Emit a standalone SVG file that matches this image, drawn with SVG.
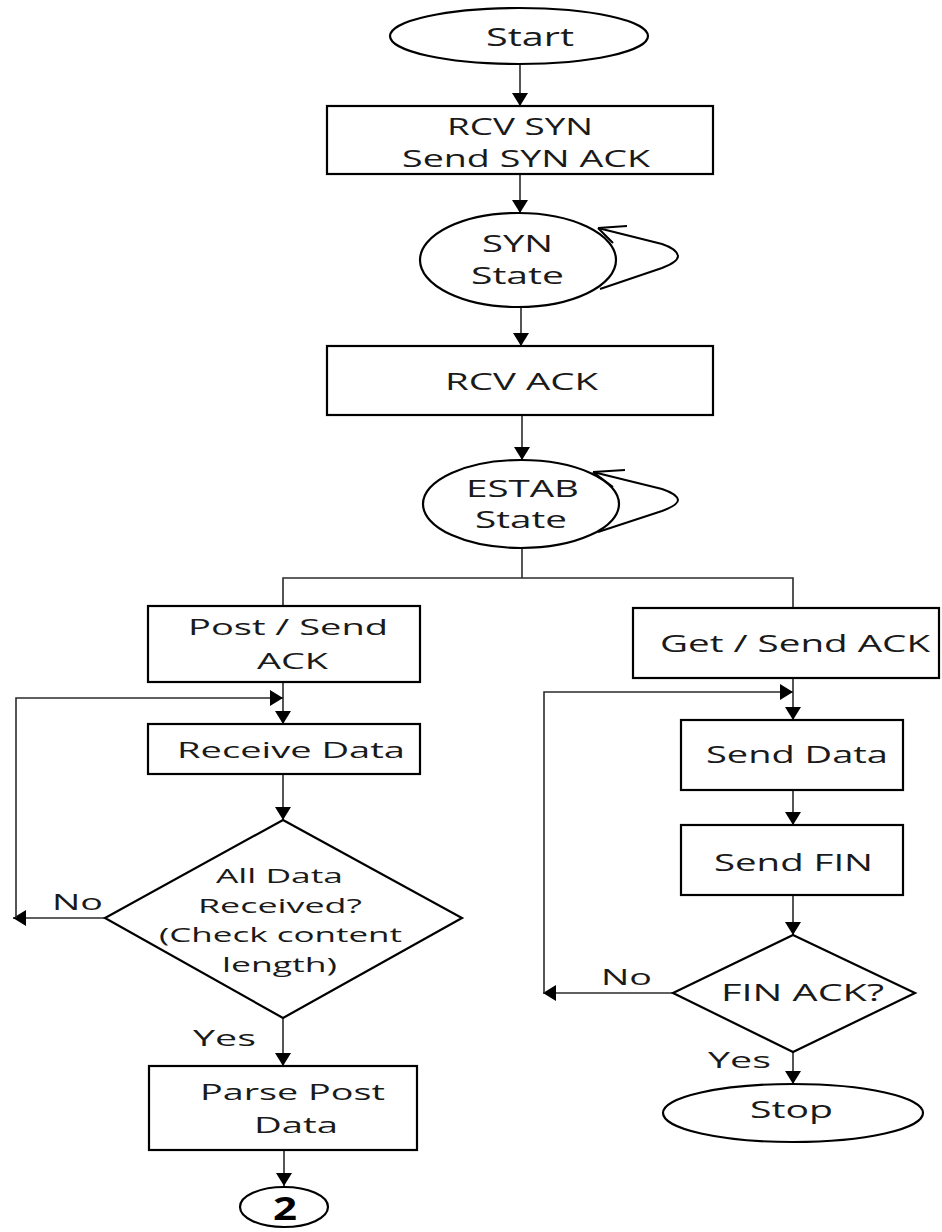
<svg xmlns="http://www.w3.org/2000/svg" width="942" height="1232" viewBox="0 0 942 1232">
  <style>
    .shape { fill: #ffffff; stroke: #000000; stroke-width: 2.2; }
    .conn { fill: none; stroke: #2b2b2b; stroke-width: 1.6; }
    .arrow { marker-end: url(#head); }
    .loop { fill: none; stroke: #000000; stroke-width: 2; stroke-linejoin: round; }
    text { font-family: "Open Sans", "Noto Sans", "Liberation Sans", sans-serif; font-weight: 500; fill: #1a1a1a; }
    .t23 { font-size: 23px; }
    .t21 { font-size: 21px; }
    .t20 { font-size: 20px; }
    .t25 { font-size: 25px; }
    .big { font-size: 32px; font-weight: bold; fill: #000000; }
  </style>
  <defs>
    <marker id="head" viewBox="0 0 13 16" refX="13" refY="8" markerWidth="13" markerHeight="16" markerUnits="userSpaceOnUse" orient="auto">
      <path d="M0,0 L13,8 L0,16 z" fill="#000000"/>
    </marker>
  </defs>

  <rect width="942" height="1232" fill="#ffffff"/>

  <!-- connectors -->
  <g id="connectors">
    <path class="conn arrow" d="M520,64 V106"/>
    <path class="conn arrow" d="M520,174 V213"/>
    <path class="conn arrow" d="M521,308 V346"/>
    <path class="conn arrow" d="M522,415 V460"/>
    <path class="conn" d="M522,548 V578"/>
    <path class="conn" d="M283,606 V578 H793 V608"/>
    <path class="conn arrow" d="M283,682 V724"/>
    <path class="conn arrow" d="M105,918 H13"/>
    <path class="conn arrow" d="M16,918 V698 H283"/>
    <path class="conn arrow" d="M283,774 V820"/>
    <path class="conn arrow" d="M283,1018 V1066"/>
    <path class="conn arrow" d="M284,1150 V1186"/>
    <path class="conn arrow" d="M793,678 V720"/>
    <path class="conn arrow" d="M673,993 H543"/>
    <path class="conn arrow" d="M544,993 V692 H793"/>
    <path class="conn arrow" d="M793,790 V825"/>
    <path class="conn arrow" d="M793,895 V935"/>
    <path class="conn arrow" d="M793,1052 V1084"/>
    <!-- self loops on the state nodes -->
    <path class="loop" d="M600,289 L662,268 Q678,262 678,256 Q677,249 662,244 L598,228"/>
    <path class="loop" d="M598,228 L627,226 M598,228 L613,243"/>
    <path class="loop" d="M598,532 L662,511 Q678,505 678,500 Q677,494 662,489 L593,472"/>
    <path class="loop" d="M593,472 L625,470 M593,472 L613,487"/>
    <!-- branch labels -->
    <text class="t21" x="52" y="910" textLength="51" lengthAdjust="spacingAndGlyphs">No</text>
    <text class="t21" x="193" y="1046" textLength="63" lengthAdjust="spacingAndGlyphs">Yes</text>
    <text class="t21" x="601" y="985" textLength="51" lengthAdjust="spacingAndGlyphs">No</text>
    <text class="t21" x="708" y="1068" textLength="63" lengthAdjust="spacingAndGlyphs">Yes</text>
  </g>

  <g id="start">
    <ellipse class="shape" cx="519" cy="36" rx="129" ry="28"/>
    <text class="t25" x="486" y="46" textLength="88" lengthAdjust="spacingAndGlyphs">Start</text>
  </g>

  <g id="rcv-syn">
    <rect class="shape" x="327" y="106" width="386" height="68"/>
    <text class="t23" x="447" y="135" textLength="146" lengthAdjust="spacingAndGlyphs">RCV SYN</text>
    <text class="t23" x="402" y="167" textLength="248" lengthAdjust="spacingAndGlyphs">Send SYN ACK</text>
  </g>

  <g id="syn-state">
    <ellipse class="shape" cx="518" cy="260" rx="98" ry="47"/>
    <text class="t23" x="482" y="252" textLength="71" lengthAdjust="spacingAndGlyphs">SYN</text>
    <text class="t23" x="471" y="284" textLength="93" lengthAdjust="spacingAndGlyphs">State</text>
  </g>

  <g id="rcv-ack">
    <rect class="shape" x="327" y="346" width="386" height="69"/>
    <text class="t23" x="445" y="390" textLength="153" lengthAdjust="spacingAndGlyphs">RCV ACK</text>
  </g>

  <g id="estab-state">
    <ellipse class="shape" cx="521" cy="504" rx="98" ry="44"/>
    <text class="t23" x="466" y="497" textLength="113" lengthAdjust="spacingAndGlyphs">ESTAB</text>
    <text class="t23" x="475" y="528" textLength="92" lengthAdjust="spacingAndGlyphs">State</text>
  </g>

  <g id="post-send-ack">
    <rect class="shape" x="148" y="606" width="272" height="76"/>
    <text class="t21" x="188" y="635" textLength="200" lengthAdjust="spacingAndGlyphs">Post / Send</text>
    <text class="t21" x="257" y="669" textLength="71" lengthAdjust="spacingAndGlyphs">ACK</text>
  </g>

  <g id="receive-data">
    <rect class="shape" x="148" y="724" width="272" height="50"/>
    <text class="t21" x="177" y="758" textLength="228" lengthAdjust="spacingAndGlyphs">Receive Data</text>
  </g>

  <g id="all-data-received">
    <polygon class="shape" points="283,820 462,918 283,1018 105,918"/>
    <text class="t20" x="216" y="883" textLength="127" lengthAdjust="spacingAndGlyphs">All Data</text>
    <text class="t20" x="198" y="913" textLength="164" lengthAdjust="spacingAndGlyphs">Received?</text>
    <text class="t20" x="159" y="942" textLength="243" lengthAdjust="spacingAndGlyphs">(Check content</text>
    <text class="t20" x="222" y="972" textLength="115" lengthAdjust="spacingAndGlyphs">length)</text>
  </g>

  <g id="parse-post-data">
    <rect class="shape" x="149" y="1066" width="268" height="84"/>
    <text class="t21" x="200" y="1100" textLength="185" lengthAdjust="spacingAndGlyphs">Parse Post</text>
    <text class="t21" x="254" y="1133" textLength="84" lengthAdjust="spacingAndGlyphs">Data</text>
  </g>

  <g id="connector-2">
    <ellipse class="shape" cx="284" cy="1207" rx="44" ry="20"/>
    <text class="big" x="273" y="1220" textLength="24" lengthAdjust="spacingAndGlyphs">2</text>
  </g>

  <g id="get-send-ack">
    <rect class="shape" x="633" y="608" width="306" height="70"/>
    <text class="t23" x="660" y="652" textLength="270" lengthAdjust="spacingAndGlyphs">Get / Send ACK</text>
  </g>

  <g id="send-data">
    <rect class="shape" x="681" y="720" width="222" height="70"/>
    <text class="t23" x="706" y="763" textLength="182" lengthAdjust="spacingAndGlyphs">Send Data</text>
  </g>

  <g id="send-fin">
    <rect class="shape" x="681" y="825" width="222" height="70"/>
    <text class="t23" x="714" y="871" textLength="159" lengthAdjust="spacingAndGlyphs">Send FIN</text>
  </g>

  <g id="fin-ack">
    <polygon class="shape" points="793,935 915,993 793,1052 673,993"/>
    <text class="t23" x="721" y="1001" textLength="163" lengthAdjust="spacingAndGlyphs">FIN ACK?</text>
  </g>

  <g id="stop">
    <ellipse class="shape" cx="793" cy="1113" rx="130" ry="29"/>
    <text class="t23" x="750" y="1118" textLength="83" lengthAdjust="spacingAndGlyphs">Stop</text>
  </g>
</svg>
